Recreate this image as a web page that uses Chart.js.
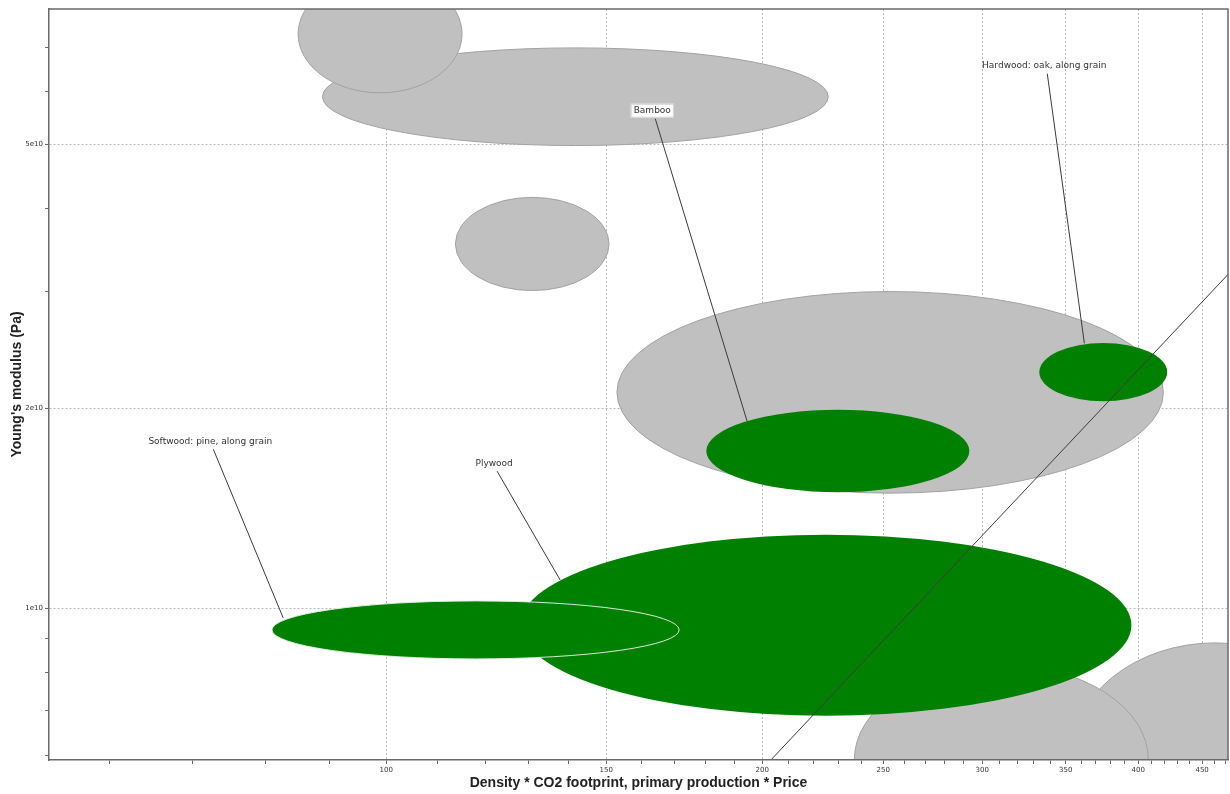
<!DOCTYPE html>
<html>
<head>
<meta charset="utf-8">
<title>Young's modulus vs. density · CO2 footprint · price</title>
<script src="https://cdn.jsdelivr.net/npm/chart.js@4.4.1/dist/chart.umd.min.js"></script>
<style>
  html, body { margin: 0; padding: 0; background: #ffffff; }
  canvas { display: block; }
</style>
</head>
<body>
<canvas id="chart" width="1230" height="794"></canvas>
<script>
// ---- Property ranges (x: density * CO2 footprint * price, y: Young's modulus in Pa) ----

// Other materials in the selection (grey envelopes), in drawing order
const otherXLow  = [88.9, 85.0, 113.6, 153.0, 352.8, 237.0];
const otherXHigh = [225.9, 115.0, 150.8, 419.0, 602.3, 407.5];
const otherYLow  = [4.98e10, 5.98e10, 3.01e10, 1.49e10, 3.94e9, 4.25e9];
const otherYHigh = [6.99e10, 9.0e10, 4.16e10, 3.00e10, 8.86e9, 8.21e9];

// Woods (green envelopes), in drawing order
const woodNames  = ['Bamboo', 'Hardwood: oak, along grain', 'Plywood', 'Softwood: pine, along grain'];
const woodXLow   = [180.4, 333.3, 128.0, 81.0];
const woodXHigh  = [293.0, 422.0, 395.0, 171.6];
const woodYLow   = [1.495e10, 2.05e10, 6.88e9, 8.38e9];
const woodYHigh  = [1.99e10, 2.51e10, 1.29e10, 1.025e10];

// Selection guideline (slope 2 on log-log axes)
const guideX = [200, 480];
const guideY = [5.716e9, 3.292e10];

// Axis ticks
const xMajorValues = [100, 150, 200, 250, 300, 350, 400, 450];
const xMajorLabels = ['100', '150', '200', '250', '300', '350', '400', '450'];
const xMinorValues = [60, 70, 80, 90, 110, 120, 130, 140, 160, 170, 180, 190, 210, 220, 230, 240,
                      260, 270, 280, 290, 310, 320, 330, 340, 360, 370, 380, 390, 410, 420, 430, 440, 460, 470];
const yMajorValues = [1e10, 2e10, 5e10];
const yMajorLabels = ['1e10', '2e10', '5e10'];
const yMinorValues = [6e9, 7e9, 8e9, 9e9, 3e10, 4e10, 6e10, 7e10];

// Axis extents
const xRange = [53.7, 472];
const yRange = [5.9e9, 8.0e10];

// Callout placement for each wood label (data coordinates: text centre, leader tip)
const callouts = {
  textX: [163.3, 336.4, 122.0, 72.3],
  textY: [5.62e10, 6.57e10, 1.653e10, 1.784e10],
  tipX:  [194.5, 362.2, 137.8, 82.7],
  tipY:  [1.912e10, 2.506e10, 1.102e10, 9.66e9],
  boxed: [true, false, false, false]
};

const GREY_FILL = '#c0c0c0';
const GREY_EDGE = '#a2a2a2';
const GREEN_FILL = '#008000';
const AXIS_COLOR = '#6a6a6a';

function buildTicks(majors, minors) {
  return majors.concat(minors)
    .sort((a, b) => a - b)
    .map(v => ({ value: v, major: majors.includes(v) }));
}

function ellipse(ctx, sx, sy, x0, x1, y0, y1) {
  const px0 = sx.getPixelForValue(x0), px1 = sx.getPixelForValue(x1);
  const py0 = sy.getPixelForValue(y0), py1 = sy.getPixelForValue(y1);
  const cx = (px0 + px1) / 2, cy = (py0 + py1) / 2;
  const rx = Math.abs(px1 - px0) / 2, ry = Math.abs(py1 - py0) / 2;
  ctx.beginPath();
  ctx.ellipse(cx, cy, rx, ry, 0, 0, Math.PI * 2);
}

// Property envelopes drawn under the guideline
const envelopePlugin = {
  id: 'envelopes',
  beforeDatasetsDraw(chart) {
    const { ctx, chartArea: a, scales: { x, y } } = chart;
    ctx.save();
    ctx.beginPath();
    ctx.rect(a.left, a.top, a.right - a.left, a.bottom - a.top);
    ctx.clip();
    for (let i = 0; i < otherXLow.length; i++) {
      ellipse(ctx, x, y, otherXLow[i], otherXHigh[i], otherYLow[i], otherYHigh[i]);
      ctx.fillStyle = GREY_FILL;
      ctx.fill();
      ctx.lineWidth = 1;
      ctx.strokeStyle = GREY_EDGE;
      ctx.stroke();
    }
    for (let i = 0; i < woodNames.length; i++) {
      ellipse(ctx, x, y, woodXLow[i], woodXHigh[i], woodYLow[i], woodYHigh[i]);
      ctx.fillStyle = GREEN_FILL;
      ctx.fill();
      if (woodNames[i].startsWith('Softwood')) {
        ctx.lineWidth = 1;
        ctx.strokeStyle = 'rgba(225,240,225,0.95)';
        ctx.stroke();
      }
    }
    ctx.restore();
  }
};

// Callout labels with leader lines, plus the frame on the top and right
const calloutPlugin = {
  id: 'callouts',
  afterDatasetsDraw(chart) {
    const { ctx, scales: { x, y } } = chart;
    ctx.save();
    ctx.font = '9px "DejaVu Sans", sans-serif';
    ctx.textAlign = 'center';
    ctx.textBaseline = 'middle';
    const pts = woodNames.map((name, i) => ({
      name,
      tx: x.getPixelForValue(callouts.textX[i]),
      ty: y.getPixelForValue(callouts.textY[i]),
      ex: x.getPixelForValue(callouts.tipX[i]),
      ey: y.getPixelForValue(callouts.tipY[i]),
      boxed: callouts.boxed[i]
    }));
    ctx.strokeStyle = '#3a3a3a';
    ctx.lineWidth = 1;
    pts.forEach(p => {
      ctx.beginPath();
      ctx.moveTo(p.tx + 3, p.ty + 8);
      ctx.lineTo(p.ex, p.ey);
      ctx.stroke();
    });
    pts.forEach(p => {
      const w = ctx.measureText(p.name).width;
      if (p.boxed) {
        ctx.fillStyle = '#ffffff';
        ctx.fillRect(p.tx - w / 2 - 3, p.ty - 7, w + 6, 14);
        ctx.strokeStyle = '#d0d0d0';
        ctx.strokeRect(p.tx - w / 2 - 3 + 0.5, p.ty - 7 + 0.5, w + 5, 13);
      }
      ctx.fillStyle = '#333333';
      ctx.fillText(p.name, p.tx, p.ty);
    });
    ctx.restore();
  },
  afterDraw(chart) {
    const { ctx, chartArea: a } = chart;
    ctx.save();
    ctx.strokeStyle = AXIS_COLOR;
    ctx.lineWidth = 1.5;
    ctx.beginPath();
    ctx.moveTo(a.left, a.top);
    ctx.lineTo(a.right, a.top);
    ctx.lineTo(a.right, a.bottom);
    ctx.stroke();
    ctx.restore();
  }
};

const tickFont = { family: '"DejaVu Sans", sans-serif', size: 7 };
const titleFont = { family: '"Liberation Sans", Arial, sans-serif', size: 14, weight: 'bold' };

new Chart(document.getElementById('chart'), {
  type: 'scatter',
  data: {
    datasets: [{
      label: 'Guideline',
      data: guideX.map((v, i) => ({ x: v, y: guideY[i] })),
      showLine: true,
      borderColor: '#3c3c3c',
      borderWidth: 1,
      pointRadius: 0,
      pointHoverRadius: 0,
      fill: false
    }]
  },
  options: {
    responsive: false,
    devicePixelRatio: 1,
    animation: false,
    events: [],
    layout: { padding: { top: 9, right: 2, bottom: 0, left: 0 } },
    plugins: { legend: { display: false }, tooltip: { enabled: false } },
    scales: {
      x: {
        type: 'logarithmic',
        min: xRange[0],
        max: xRange[1],
        afterBuildTicks: ax => { ax.ticks = buildTicks(xMajorValues, xMinorValues); },
        afterFit: ax => { ax.height = 34; },
        ticks: {
          autoSkip: false,
          maxRotation: 0,
          padding: 2,
          font: tickFont,
          color: '#333333',
          callback: v => { const k = xMajorValues.indexOf(v); return k >= 0 ? xMajorLabels[k] : ''; }
        },
        grid: {
          color: c => (c.tick && c.tick.major) ? '#b8b8b8' : 'rgba(0,0,0,0)',
          lineWidth: 1,
          tickColor: AXIS_COLOR,
          tickWidth: 1,
          tickLength: 4
        },
        border: { display: true, color: AXIS_COLOR, width: 1.5, dash: [2, 2], z: 1 },
        title: {
          display: true,
          text: 'Density * CO2 footprint, primary production * Price',
          font: titleFont,
          color: '#222222',
          padding: { top: 0, bottom: 2 }
        }
      },
      y: {
        type: 'logarithmic',
        min: yRange[0],
        max: yRange[1],
        afterBuildTicks: ax => { ax.ticks = buildTicks(yMajorValues, yMinorValues); },
        afterFit: ax => { ax.width = 49; },
        ticks: {
          autoSkip: false,
          padding: 2,
          font: tickFont,
          color: '#333333',
          callback: v => { const k = yMajorValues.indexOf(v); return k >= 0 ? yMajorLabels[k] : ''; }
        },
        grid: {
          color: c => (c.tick && c.tick.major) ? '#b8b8b8' : 'rgba(0,0,0,0)',
          lineWidth: 1,
          tickColor: AXIS_COLOR,
          tickWidth: 1,
          tickLength: 4
        },
        border: { display: true, color: AXIS_COLOR, width: 1.5, dash: [2, 2], z: 1 },
        title: {
          display: true,
          text: "Young's modulus (Pa)",
          font: titleFont,
          color: '#222222',
          padding: { top: 9, bottom: 0 }
        }
      }
    }
  },
  plugins: [envelopePlugin, calloutPlugin]
});
</script>
</body>
</html>
